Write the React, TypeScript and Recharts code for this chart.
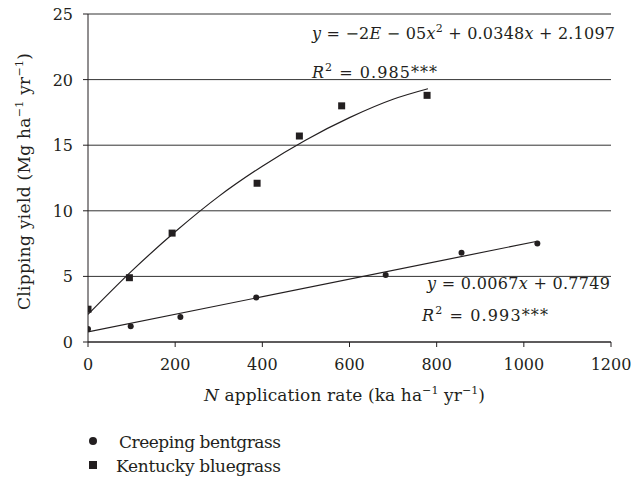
import {
  ComposedChart,
  Scatter,
  Line,
  XAxis,
  YAxis,
  CartesianGrid,
} from 'recharts';

// Kentucky bluegrass (squares)
const kbRate = [0, 95, 193, 388, 485, 582, 778];
const kbYield = [2.5, 4.9, 8.3, 12.1, 15.7, 18.0, 18.8];
// Creeping bentgrass (circles)
const cbRate = [0, 98, 212, 386, 683, 857, 1031];
const cbYield = [1.0, 1.2, 1.9, 3.4, 5.1, 6.8, 7.5];

// trend lines
const kbFitRate = [0, 100, 200, 300, 400, 500, 600, 700, 780];
const kbFitYield = [2.1, 5.4, 8.4, 11.1, 13.4, 15.4, 17.1, 18.5, 19.3];
const cbFitRate = [0, 1031];
const cbFitYield = [0.77, 7.68];

const xTicks = [0, 200, 400, 600, 800, 1000, 1200];
const yTicks = [0, 5, 10, 15, 20, 25];

const zip = (xs: number[], ys: number[]) => xs.map((x, i) => ({ x, y: ys[i] }));

const kbData = zip(kbRate, kbYield);
const cbData = zip(cbRate, cbYield);
const kbFit = zip(kbFitRate, kbFitYield);
const cbFit = zip(cbFitRate, cbFitYield);

const FONT = '"DejaVu Serif", "Liberation Serif", "Noto Serif", serif';
const INK = '#231f20';
const FS = 16;

const Square = (props: any) => (
  <rect x={props.cx - 3.5} y={props.cy - 3.5} width={7} height={7} fill={INK} />
);
const Dot = (props: any) => <circle cx={props.cx} cy={props.cy} r={3} fill={INK} />;

const XTick = ({ x, y, payload }: any) => (
  <text x={x} y={y + 13} textAnchor="middle" fontFamily={FONT} fontSize={FS} fill={INK}>
    {payload.value}
  </text>
);
const YTick = ({ x, y, payload }: any) => (
  <text x={x} y={y + 6} textAnchor="end" fontFamily={FONT} fontSize={FS} fill={INK}>
    {payload.value}
  </text>
);

function XLabel() {
  return (
    <text x={204} y={401} fontFamily={FONT} fontSize={17} fill={INK} textLength={281} lengthAdjust="spacing">
      <tspan fontStyle="italic">N</tspan> application rate (ka ha
      <tspan dy={-7} fontSize={11}>−1</tspan>
      <tspan dy={7}> yr</tspan>
      <tspan dy={-7} fontSize={11}>−1</tspan>
      <tspan dy={7}>)</tspan>
    </text>
  );
}

function YLabel() {
  return (
    <text
      x={0}
      y={0}
      transform="translate(30 310) rotate(-90)"
      fontFamily={FONT}
      fontSize={17}
      fill={INK}
      textLength={257}
      lengthAdjust="spacing"
    >
      Clipping yield (Mg ha
      <tspan dy={-7} fontSize={11}>−1</tspan>
      <tspan dy={7}> yr</tspan>
      <tspan dy={-7} fontSize={11}>−1</tspan>
      <tspan dy={7}>)</tspan>
    </text>
  );
}

export default function App() {
  return (
    <div style={{ position: 'absolute', left: 0, top: 0, width: 632, height: 478, background: '#fff' }}>
      <ComposedChart
        width={632}
        height={478}
        margin={{ top: 14, right: 21, bottom: 106, left: 38 }}
      >
        <CartesianGrid horizontal vertical={false} stroke="#333" strokeWidth={1} />
        <XAxis
          type="number"
          dataKey="x"
          domain={[0, 1200]}
          ticks={xTicks}
          allowDataOverflow
          height={30}
          stroke={INK}
          tickSize={5}
          tickMargin={10}
          tick={<XTick />}
          label={<XLabel />}
        />
        <YAxis
          type="number"
          dataKey="y"
          domain={[0, 25]}
          ticks={yTicks}
          width={50}
          stroke={INK}
          tickSize={5}
          tickMargin={10}
          tick={<YTick />}
          label={<YLabel />}
        />
        <Line
          data={kbFit}
          dataKey="y"
          type="monotone"
          stroke={INK}
          strokeWidth={1.2}
          dot={false}
          activeDot={false}
          isAnimationActive={false}
        />
        <Line
          data={cbFit}
          dataKey="y"
          type="linear"
          stroke={INK}
          strokeWidth={1.2}
          dot={false}
          activeDot={false}
          isAnimationActive={false}
        />
        <Scatter data={kbData} dataKey="y" shape={<Square />} isAnimationActive={false} />
        <Scatter data={cbData} dataKey="y" shape={<Dot />} isAnimationActive={false} />
      </ComposedChart>

      <svg
        width={632}
        height={478}
        style={{ position: 'absolute', left: 0, top: 0, pointerEvents: 'none' }}
        fontFamily={FONT}
        fill={INK}
      >
        <text x={312} y={39} fontSize={16} textLength={303} lengthAdjust="spacing">
          <tspan fontStyle="italic">y</tspan> = −2<tspan fontStyle="italic">E</tspan> − 05
          <tspan fontStyle="italic">x</tspan>
          <tspan dy={-7} fontSize={11}>2</tspan>
          <tspan dy={7}> + 0.0348</tspan>
          <tspan fontStyle="italic">x</tspan> + 2.1097
        </text>
        <text x={312} y={78} fontSize={16} textLength={125} lengthAdjust="spacing">
          <tspan fontStyle="italic">R</tspan>
          <tspan dy={-7} fontSize={11}>2</tspan>
          <tspan dy={7}> = 0.985***</tspan>
        </text>
        <text x={427} y={289} fontSize={16} textLength={183} lengthAdjust="spacing">
          <tspan fontStyle="italic">y</tspan> = 0.0067<tspan fontStyle="italic">x</tspan> + 0.7749
        </text>
        <text x={422} y={321} fontSize={16} textLength={126} lengthAdjust="spacing">
          <tspan fontStyle="italic">R</tspan>
          <tspan dy={-7} fontSize={11}>2</tspan>
          <tspan dy={7}> = 0.993***</tspan>
        </text>
        <circle cx={93} cy={441} r={4} fill={INK} />
        <text x={119} y={448} fontSize={17} textLength={162} lengthAdjust="spacing">
          Creeping bentgrass
        </text>
        <rect x={89} y={461} width={8} height={8} fill={INK} />
        <text x={116} y={472} fontSize={17} textLength={165} lengthAdjust="spacing">
          Kentucky bluegrass
        </text>
      </svg>
    </div>
  );
}
